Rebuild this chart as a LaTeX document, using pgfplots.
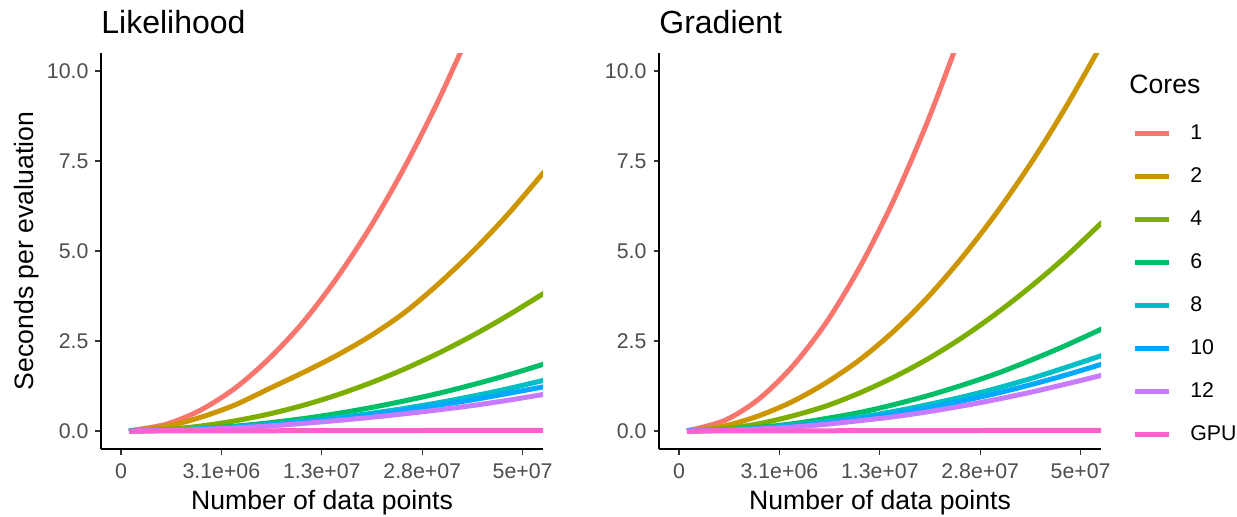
\documentclass[border=0pt]{standalone}
\usepackage{fontspec}
\setmainfont{Liberation Sans}
\usepackage{pgfplots}
\pgfplotsset{compat=1.18}
\definecolor{c1}{HTML}{F8766D}
\definecolor{c2}{HTML}{CD9600}
\definecolor{c4}{HTML}{7CAE00}
\definecolor{c6}{HTML}{00BE67}
\definecolor{c8}{HTML}{00BFC4}
\definecolor{c10}{HTML}{00A9FF}
\definecolor{c12}{HTML}{C77CFF}
\definecolor{cgpu}{HTML}{FF61CC}
\definecolor{tickgray}{HTML}{4D4D4D}
\definecolor{tickmark}{HTML}{333333}
\pgfplotsset{
  ggbase/.style={
    scale only axis, width=221pt, height=198pt,
    xmin=-352, xmax=7430, ymin=-0.5, ymax=10.5,
    axis lines=left, axis line style={-, line width=1pt, black},
    xtick={0,1767.8,3535.5,5303.3,7071.1},
    xticklabels={0,3.1e+06,1.3e+07,2.8e+07,5e+07},
    ytick={0,2.5,5,7.5,10}, yticklabels={0.0,2.5,5.0,7.5,10.0},
    tick align=outside, major tick length=2.75pt,
    tick style={tickmark, line width=0.6pt},
    ticklabel style={font=\fontsize{10.65}{12}\selectfont, text=tickgray},
    xticklabel style={yshift=-1pt},
    xlabel style={font=\fontsize{13.3}{15}\selectfont, at={(axis description cs:0.5,0)}, anchor=base, yshift=-30pt},
    title style={font=\fontsize{16}{19}\selectfont, at={(axis description cs:0,1)}, anchor=base west, yshift=4pt, inner sep=0pt},
    every axis plot/.append style={line width=2.5pt, no markers, smooth},
    clip=true,
  }
}
\begin{document}
\begin{tikzpicture}
\begin{axis}[ggbase, at={(0pt,0pt)}, anchor=south west,
  title={Likelihood}, xlabel={Number of data points},
  ylabel={Seconds per evaluation},
  ylabel style={font=\fontsize{13.3}{15}\selectfont, at={(axis description cs:-0.1538,0.5)}, anchor=base},
]
\addplot[c1] coordinates {(141,0.005) (800,0.19) (1400,0.58) (2000,1.18) (2600,2.0) (3200,3.01) (3800,4.25) (4400,5.69) (5000,7.35) (5600,9.22) (6200,11.3)};
\addplot[c2] coordinates {(141,0.005) (800,0.13) (1400,0.38) (2000,0.72) (2600,1.17) (3200,1.62) (3800,2.1) (4400,2.65) (5000,3.3) (5600,4.1) (6200,5.0) (6800,6.0) (7450,7.2)};
\addplot[c4] coordinates {(141,0.002) (800,0.045) (1400,0.137) (2000,0.28) (2600,0.47) (3200,0.71) (3800,1.0) (4400,1.34) (5000,1.73) (5600,2.17) (6200,2.66) (6800,3.2) (7450,3.83)};
\addplot[c6] coordinates {(141,0.001) (800,0.021) (1400,0.066) (2000,0.134) (2600,0.226) (3200,0.343) (3800,0.484) (4400,0.65) (5000,0.84) (5600,1.05) (6200,1.29) (6800,1.55) (7450,1.86)};
\addplot[c8] coordinates {(141,0) (800,0.02) (1400,0.06) (2000,0.11) (2600,0.18) (3200,0.27) (3800,0.37) (4400,0.49) (5000,0.63) (5600,0.79) (6200,0.97) (6800,1.17) (7450,1.41)};
\addplot[c10] coordinates {(141,0) (800,0.02) (1400,0.055) (2000,0.1) (2600,0.17) (3200,0.25) (3800,0.34) (4400,0.45) (5000,0.58) (5600,0.72) (6200,0.87) (6800,1.04) (7450,1.23)};
\addplot[c12] coordinates {(141,-0.01) (800,0.015) (1400,0.045) (2000,0.085) (2600,0.14) (3200,0.21) (3800,0.29) (4400,0.38) (5000,0.48) (5600,0.59) (6200,0.71) (6800,0.85) (7450,1.02)};
\addplot[cgpu] coordinates {(141,0) (3800,0.01) (7450,0.02)};
\end{axis}
\begin{axis}[ggbase, at={(279pt,0pt)}, anchor=south west,
  title={Gradient}, xlabel={Number of data points},
  legend style={at={(axis description cs:1.07,0.823)}, anchor=north west, draw=none, fill=none, inner sep=0pt,
    row sep=11.5pt, nodes={inner sep=0pt, text height=8pt, text depth=2pt},
    font=\fontsize{10.65}{12}\selectfont,
    /tikz/every odd column/.append style={column sep=9.5pt}},
  legend cell align=left,
  legend image code/.code={\draw[#1, line width=2.5pt] (0pt,0pt) -- (17pt,0pt);},
]
\addplot[c1] coordinates {(141,0.005) (800,0.29) (1400,0.88) (2000,1.8) (2600,3.03) (3200,4.6) (3800,6.48) (4400,8.69) (5000,11.2)};
\addlegendentry{1}
\addplot[c2] coordinates {(141,0.005) (800,0.14) (1400,0.42) (2000,0.82) (2600,1.35) (3200,2.0) (3800,2.8) (4400,3.75) (5000,4.85) (5600,6.08) (6200,7.45) (6800,8.97) (7450,10.77)};
\addlegendentry{2}
\addplot[c4] coordinates {(141,0.002) (800,0.067) (1400,0.2) (2000,0.42) (2600,0.7) (3200,1.07) (3800,1.51) (4400,2.02) (5000,2.61) (5600,3.28) (6200,4.02) (6800,4.83) (7450,5.8)};
\addlegendentry{4}
\addplot[c6] coordinates {(141,0.001) (800,0.033) (1400,0.1) (2000,0.2) (2600,0.35) (3200,0.52) (3800,0.74) (4400,0.99) (5000,1.28) (5600,1.6) (6200,1.97) (6800,2.37) (7450,2.84)};
\addlegendentry{6}
\addplot[c8] coordinates {(141,0) (800,0.025) (1400,0.075) (2000,0.15) (2600,0.26) (3200,0.39) (3800,0.55) (4400,0.74) (5000,0.95) (5600,1.19) (6200,1.46) (6800,1.76) (7450,2.1)};
\addlegendentry{8}
\addplot[c10] coordinates {(141,0) (800,0.022) (1400,0.066) (2000,0.134) (2600,0.23) (3200,0.343) (3800,0.484) (4400,0.65) (5000,0.84) (5600,1.05) (6200,1.29) (6800,1.55) (7450,1.86)};
\addlegendentry{10}
\addplot[c12] coordinates {(141,-0.01) (800,0.018) (1400,0.055) (2000,0.11) (2600,0.19) (3200,0.29) (3800,0.40) (4400,0.54) (5000,0.70) (5600,0.88) (6200,1.08) (6800,1.30) (7450,1.55)};
\addlegendentry{12}
\addplot[cgpu] coordinates {(141,0) (3800,0.01) (7450,0.02)};
\addlegendentry{GPU}
\end{axis}
\node[anchor=base west, inner sep=0pt, font=\fontsize{13.3}{15}\selectfont] at (514pt,178pt) {Cores};
\pgfresetboundingbox
\path[use as bounding box] (-50.5pt,-33.5pt) rectangle (568pt,224.5pt);
\end{tikzpicture}
\end{document}
